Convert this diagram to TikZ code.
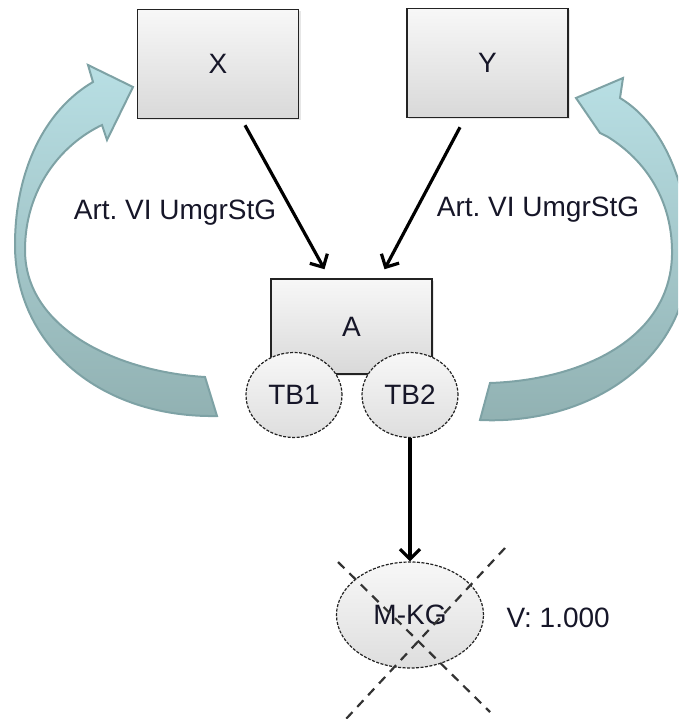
\documentclass[tikz,border=0pt]{standalone}
\usepackage{fontspec}
\setmainfont{Liberation Sans}
\usepackage{tikz}
\usepackage{xcolor}
\definecolor{boxline}{RGB}{35,35,35}
\definecolor{txt}{RGB}{22,22,40}
\definecolor{tealtop}{RGB}{184,223,228}
\definecolor{tealbot}{RGB}{145,177,178}
\definecolor{tealline}{RGB}{126,162,165}
\tikzset{box/.style={draw=boxline, line width=1.5pt, top color=gray!6, bottom color=gray!30,
   minimum width=161pt, minimum height=109pt, text=txt,
   drop shadow={opacity=.2, shadow xshift=2pt, shadow yshift=-2pt}},
 tbnode/.style={ellipse, draw=boxline, line width=1.2pt, dash pattern=on 3pt off 1.5pt,
   top color=gray!6, bottom color=gray!26, minimum width=96pt, minimum height=85pt, text=txt},
 link/.style={line width=3.2pt, -{Straight Barb[length=10pt,width=20pt]}},
 lbl/.style={text=txt},
 loopband/.style={draw=tealline, line width=2pt, top color=tealtop, bottom color=tealbot},
 crossline/.style={draw=black!80, line width=2.2pt, dash pattern=on 9pt off 7pt},
 }
\usetikzlibrary{arrows.meta}
\usetikzlibrary{shapes.geometric}
\usetikzlibrary{shadows}

\begin{document}
\frenchspacing
\begin{tikzpicture}[x=1pt, y=-1pt, font=\fontsize{28}{34}\selectfont]
        \useasboundingbox (0,0) rectangle (678,719);
        % curved arrows
        \begin{scope}
        \clip (0,0) rectangle (678,719);
        \path[loopband] (205,377) .. controls (120,372) and (25,330) .. (25,250)
            .. controls (25,190) and (60,145) .. (102,125)
            -- (107,140) -- (133,87) -- (88,65) -- (93,82)
            .. controls (45,110) and (15,170) .. (15,245)
            .. controls (15,345) and (100,418) .. (217,416) -- cycle;
        \path[loopband] (490,383) .. controls (580,380) and (670,340) .. (672,255)
            .. controls (673,200) and (645,160) .. (608,137)
            -- (600,133) -- (576,98) -- (623,78) -- (620,98)
            .. controls (665,125) and (690,190) .. (689,255)
            .. controls (688,360) and (590,425) .. (480,420) -- cycle;
        \end{scope}
        \node[box] (X) at (218,64) {X};
        \node[box] (Y) at (487.5,63) {Y};
        \node[box, minimum height=95pt] (A) at (351.5,326.5) {A};
        \node[tbnode] (TB1) at (294,395) {TB1};
        \node[tbnode] (TB2) at (410,395) {TB2};
        \node[tbnode, minimum width=147pt, minimum height=106pt] (MKG) at (410,615) {M-KG};
        \node[lbl, anchor=west] (V) at (503,618) {V: 1.000};
        \node[lbl] (artX) at (175,213) {Art. VI UmgrStG};
        \node[lbl] (artY) at (538,210) {Art. VI UmgrStG};
        \draw[link] ([xshift=27pt,yshift=-6pt]X.south) -- ([xshift=-27pt,yshift=9pt]A.north);
        \draw[link] ([xshift=-27.5pt,yshift=-9pt]Y.south) -- ([xshift=33pt,yshift=9pt]A.north);
        \draw[link] (TB2.south) -- (MKG.north);
        \draw[crossline] (338,562) -- (490,712);
        \draw[crossline] (505,548) -- (346,719);
    \end{tikzpicture}
\end{document}
